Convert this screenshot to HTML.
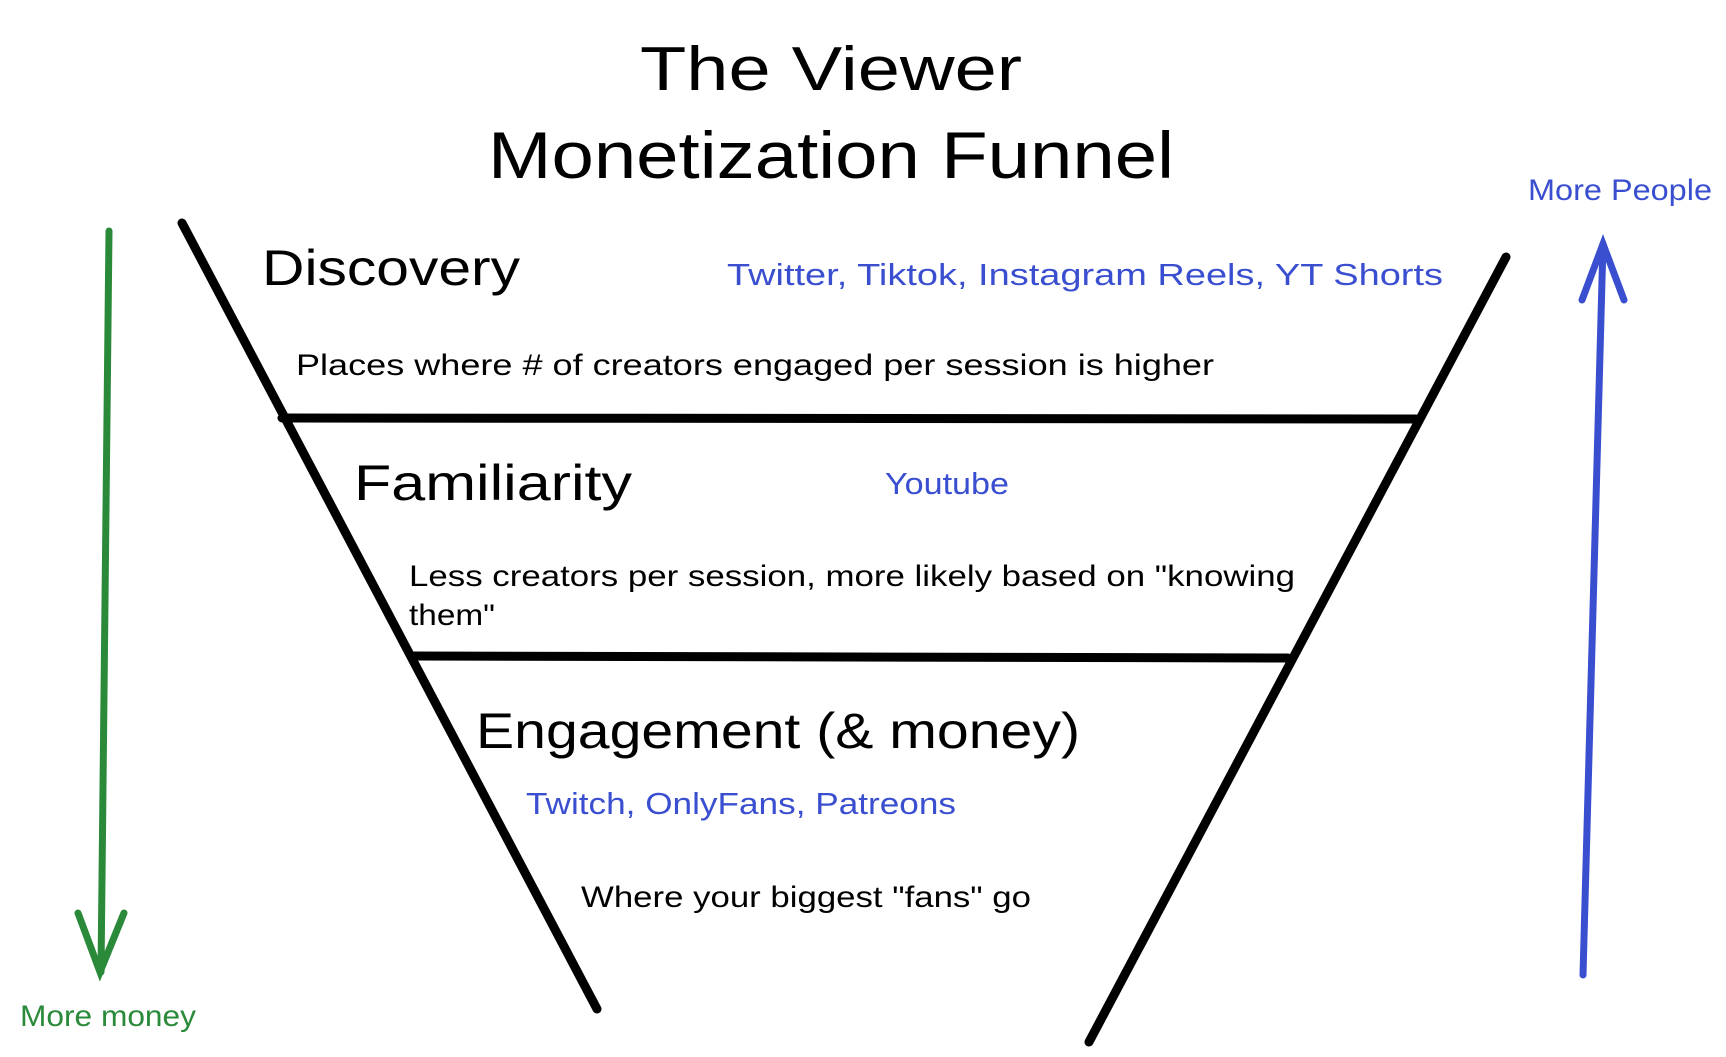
<!DOCTYPE html>
<html><head><meta charset="utf-8"><style>
html,body{margin:0;padding:0;background:#fff;}
svg{display:block;}
text{font-family:"Liberation Sans",sans-serif;}
</style></head><body>
<svg width="1726" height="1057" viewBox="0 0 1726 1057" xmlns="http://www.w3.org/2000/svg">
<rect width="1726" height="1057" fill="#fff"/>
<text x="640" y="90" font-size="62" textLength="382" lengthAdjust="spacingAndGlyphs" fill="#000">The Viewer</text>
<text x="488" y="178" font-size="66" textLength="686" lengthAdjust="spacingAndGlyphs" fill="#000">Monetization Funnel</text>
<g stroke="#000" stroke-width="9" stroke-linecap="round" fill="none">
<line x1="182" y1="223" x2="597" y2="1009"/>
<line x1="1506" y1="257" x2="1089" y2="1042"/>
<line x1="282" y1="418" x2="1416" y2="419"/>
<line x1="411" y1="656" x2="1288" y2="658"/>
</g>
<g stroke="#2a8a3a" stroke-width="7" stroke-linecap="round" fill="none">
<line x1="109" y1="231" x2="101" y2="972"/>
<polyline points="78,913 100,972 124,913"/>
</g>
<g stroke="#3a4fd0" stroke-width="7" stroke-linecap="round" fill="none">
<line x1="1583" y1="975" x2="1603" y2="244"/>
<polyline points="1582,300 1603,244 1624,300"/>
</g>
<text x="1528" y="200" font-size="30" textLength="184" lengthAdjust="spacingAndGlyphs" fill="#3a4fd0">More People</text>
<text x="20" y="1026" font-size="30" textLength="176" lengthAdjust="spacingAndGlyphs" fill="#2a8a3a">More money</text>
<text x="262" y="285" font-size="50" textLength="258" lengthAdjust="spacingAndGlyphs" fill="#000">Discovery</text>
<text x="727" y="285" font-size="31" textLength="716" lengthAdjust="spacingAndGlyphs" fill="#3a4fd0">Twitter, Tiktok, Instagram Reels, YT Shorts</text>
<text x="296" y="375" font-size="30" textLength="918" lengthAdjust="spacingAndGlyphs" fill="#000">Places where # of creators engaged per session is higher</text>
<text x="354" y="500" font-size="50" textLength="278" lengthAdjust="spacingAndGlyphs" fill="#000">Familiarity</text>
<text x="885" y="494" font-size="31" textLength="124" lengthAdjust="spacingAndGlyphs" fill="#3a4fd0">Youtube</text>
<text x="409" y="586" font-size="30" textLength="886" lengthAdjust="spacingAndGlyphs" fill="#000">Less creators per session, more likely based on "knowing</text>
<text x="409" y="625" font-size="30" textLength="86" lengthAdjust="spacingAndGlyphs" fill="#000">them"</text>
<text x="476" y="748" font-size="50" textLength="604" lengthAdjust="spacingAndGlyphs" fill="#000">Engagement (&amp; money)</text>
<text x="526" y="814" font-size="31" textLength="430" lengthAdjust="spacingAndGlyphs" fill="#3a4fd0">Twitch, OnlyFans, Patreons</text>
<text x="581" y="907" font-size="30" textLength="450" lengthAdjust="spacingAndGlyphs" fill="#000">Where your biggest "fans" go</text>
</svg>
</body></html>
